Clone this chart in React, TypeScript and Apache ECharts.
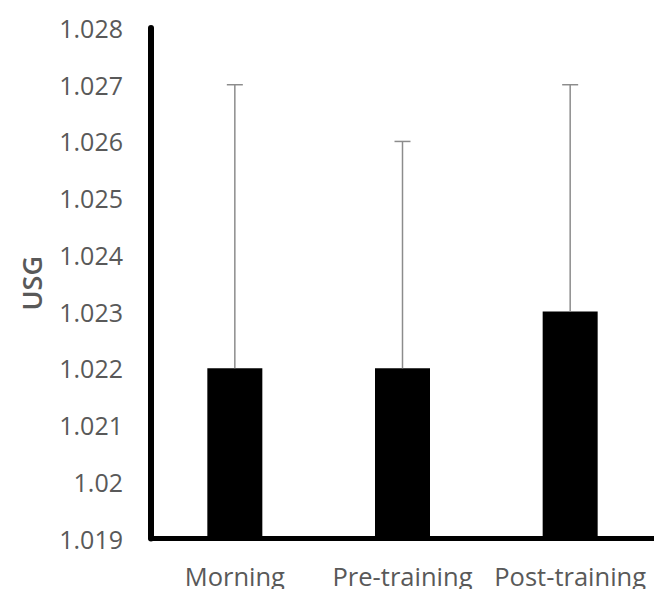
import React, { useEffect, useRef } from "react";
import * as echarts from "echarts";

const categories = ["Morning", "Pre-training", "Post-training"];
const means = [1.022, 1.022, 1.023];
const upper = [1.027, 1.026, 1.027];
const yMin = 1.019;
const yMax = 1.028;
const yStep = 0.001;

export default function App() {
  const ref = useRef<HTMLDivElement>(null);
  useEffect(() => {
    document.body.style.margin = "0";
    const chart = echarts.init(ref.current!, null, { renderer: "svg" });
    const font = "'Open Sans', 'Noto Sans', sans-serif";
    chart.setOption({
      animation: false,
      backgroundColor: "#ffffff",
      grid: { left: 151, top: 28, width: 507, height: 510.5, containLabel: false },
      xAxis: {
        type: "category",
        data: categories,
        axisLine: { show: true, lineStyle: { color: "#000000", width: 5 } },
        axisTick: { show: false },
        axisLabel: {
          color: "#595959",
          fontSize: 25.5,
          fontFamily: font,
          margin: 24,
          interval: 0,
          hideOverlap: false,
        },
        splitLine: { show: false },
      },
      yAxis: {
        type: "value",
        min: yMin,
        max: yMax,
        interval: yStep,
        name: "USG",
        nameLocation: "middle",
        nameGap: 106,
        nameTextStyle: { color: "#595959", fontSize: 27, fontFamily: font, fontWeight: 600 },
        axisLine: { show: true, lineStyle: { color: "#000000", width: 6 } },
        axisTick: { show: false },
        splitLine: { show: false },
        axisLabel: {
          color: "#595959",
          fontSize: 25,
          fontFamily: font,
          margin: 28,
          formatter: (v: number) => String(+v.toFixed(3)),
        },
      },
      series: [
        {
          type: "bar",
          data: means,
          barWidth: 55,
          itemStyle: { color: "#000000" },
          z: 2,
        },
        {
          type: "custom",
          data: categories.map((_, i) => [i, means[i], upper[i]]),
          z: 3,
          renderItem: (params: any, api: any) => {
            const x = api.value(0);
            const lo = api.coord([x, api.value(1)]);
            const hi = api.coord([x, api.value(2)]);
            const half = 8;
            const style = { stroke: "#8c8c8c", lineWidth: 1.5 };
            return {
              type: "group",
              children: [
                { type: "line", shape: { x1: lo[0], y1: lo[1], x2: hi[0], y2: hi[1] }, style },
                { type: "line", shape: { x1: hi[0] - half, y1: hi[1], x2: hi[0] + half, y2: hi[1] }, style },
              ],
            };
          },
        },
      ],
    });
    return () => chart.dispose();
  }, []);
  return <div ref={ref} style={{ width: 654, height: 589 }} />;
}
